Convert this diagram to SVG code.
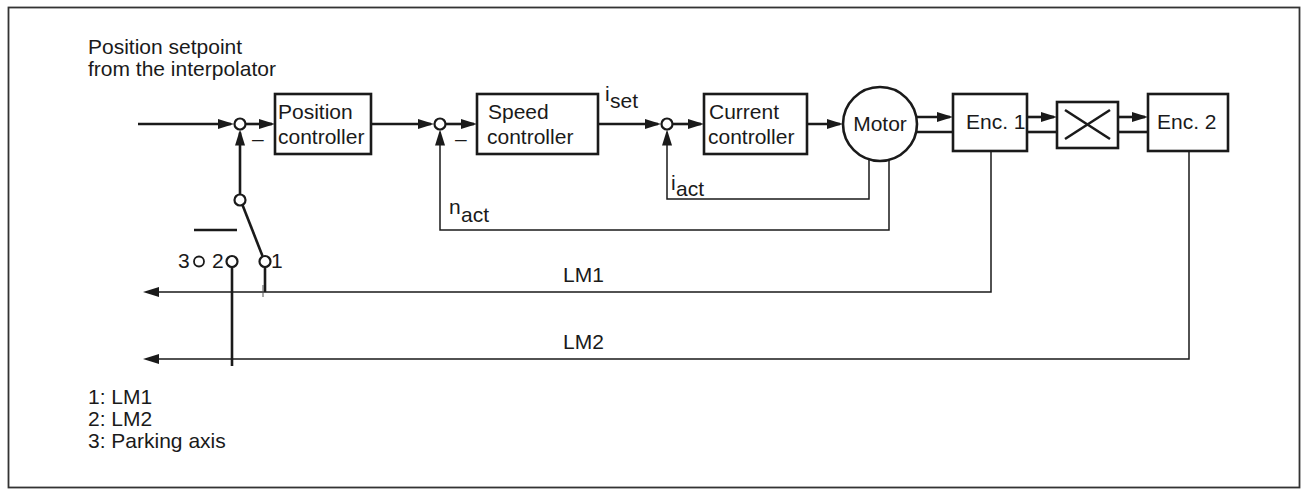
<svg xmlns="http://www.w3.org/2000/svg" width="1308" height="496" viewBox="0 0 1308 496">
<style>
text{font-family:"Liberation Sans",Arial,sans-serif;font-size:21px;fill:#1a1a1a}
.box{fill:#fff;stroke:#1a1a1a;stroke-width:2.6}
.sum{fill:#fff;stroke:#1a1a1a;stroke-width:2.2}
.thick{fill:none;stroke:#1a1a1a;stroke-width:2.6}
.thin{fill:none;stroke:#1a1a1a;stroke-width:1.5}
.arr{marker-end:url(#ah)}
</style>
<defs>
<marker id="ah" markerUnits="userSpaceOnUse" markerWidth="17" markerHeight="11" refX="13" refY="5" orient="auto">
<path d="M0,0 L16,5 L0,10 z" fill="#1a1a1a"/>
</marker>
</defs>
<rect x="8.5" y="7.5" width="1291" height="480" fill="#fff" stroke="#333" stroke-width="1.8"/>
<g id="title">
<text x="88" y="54">Position setpoint</text>
<text x="88" y="76">from the interpolator</text>
</g>
<g id="connectors">
<line class="thick arr" x1="138" y1="124" x2="231" y2="124"/>
<line class="thick arr" x1="245.5" y1="124" x2="272" y2="124"/>
<line class="thick arr" x1="371" y1="124" x2="431" y2="124"/>
<line class="thick arr" x1="445.5" y1="124" x2="474" y2="124"/>
<line class="thick arr" x1="598" y1="124" x2="658" y2="124"/>
<line class="thick arr" x1="672.5" y1="124" x2="701" y2="124"/>
<line class="thick arr" x1="807" y1="124" x2="840" y2="124"/>
<line class="thick arr" x1="916" y1="117" x2="950" y2="117"/>
<line class="thick" x1="916" y1="132" x2="953" y2="132"/>
<line class="thick arr" x1="1027" y1="117" x2="1054" y2="117"/>
<line class="thick" x1="1027" y1="132" x2="1057" y2="132"/>
<line class="thick arr" x1="1118" y1="117" x2="1145" y2="117"/>
<line class="thick" x1="1118" y1="132" x2="1148" y2="132"/>
<line class="thick arr" x1="240" y1="194.5" x2="240" y2="132.5"/>
<polyline class="thin arr" points="869,159 869,199 667,199 667,132.5"/>
<polyline class="thin arr" points="889,160 889,230 440,230 440,132.5"/>
<polyline class="thin arr" points="991,151 991,292 146,292"/>
<polyline class="thin arr" points="1189,151 1189,359 146,359"/>
<line class="thick" x1="232" y1="267" x2="232" y2="366"/>
<line class="thick" x1="265" y1="267" x2="265" y2="292"/>
<line x1="263" y1="285" x2="263" y2="297" stroke="#555" stroke-width="1"/>
</g>
<g id="sum1"><circle class="sum" cx="240" cy="124" r="5.5"/><text x="252" y="146">–</text></g>
<g id="sum2"><circle class="sum" cx="440" cy="124" r="5.5"/><text x="455" y="146">–</text></g>
<g id="sum3"><circle class="sum" cx="667" cy="124" r="5.5"/></g>
<g id="position-controller">
<rect class="box" x="275" y="94" width="96" height="60"/>
<text x="278" y="119">Position</text>
<text x="278" y="144">controller</text>
</g>
<g id="speed-controller">
<rect class="box" x="477" y="94" width="121" height="60"/>
<text x="488" y="119">Speed</text>
<text x="487" y="144">controller</text>
</g>
<g id="current-controller">
<rect class="box" x="704" y="94" width="103" height="60"/>
<text x="709" y="119">Current</text>
<text x="708" y="144">controller</text>
</g>
<g id="motor">
<circle class="box" cx="880" cy="124" r="37"/>
<text x="880" y="131" text-anchor="middle">Motor</text>
</g>
<g id="enc1">
<rect class="box" x="953" y="94" width="74" height="57"/>
<text x="966" y="129">Enc. 1</text>
</g>
<g id="coupling">
<rect class="box" x="1057" y="102" width="61" height="46"/>
<line class="thick" x1="1065" y1="110" x2="1110" y2="139"/>
<line class="thick" x1="1065" y1="139" x2="1110" y2="110"/>
</g>
<g id="enc2">
<rect class="box" x="1148" y="94" width="80" height="57"/>
<text x="1157" y="129">Enc. 2</text>
</g>
<g id="labels">
<text x="605" y="101">i</text><text x="610" y="108">set</text>
<text x="671" y="190">i</text><text x="676" y="196">act</text>
<text x="449" y="214">n</text><text x="461" y="222">act</text>
<text x="563" y="282">LM1</text>
<text x="563" y="349">LM2</text>
</g>
<g id="switch">
<circle class="sum" cx="240" cy="200" r="5.5"/>
<line class="thick" x1="242.5" y1="205" x2="262.5" y2="256"/>
<line class="thick" x1="194" y1="230" x2="237" y2="230"/>
<circle class="sum" cx="265" cy="261.5" r="5.5"/>
<circle class="sum" cx="232" cy="261.5" r="5.5"/>
<circle cx="199" cy="261.5" r="5" fill="#fff" stroke="#1a1a1a" stroke-width="1.8"/>
<text x="178" y="268">3</text>
<text x="212" y="268">2</text>
<text x="271" y="268">1</text>
</g>
<g id="legend">
<text x="88" y="404">1: LM1</text>
<text x="88" y="426">2: LM2</text>
<text x="88" y="448">3: Parking axis</text>
</g>
</svg>
